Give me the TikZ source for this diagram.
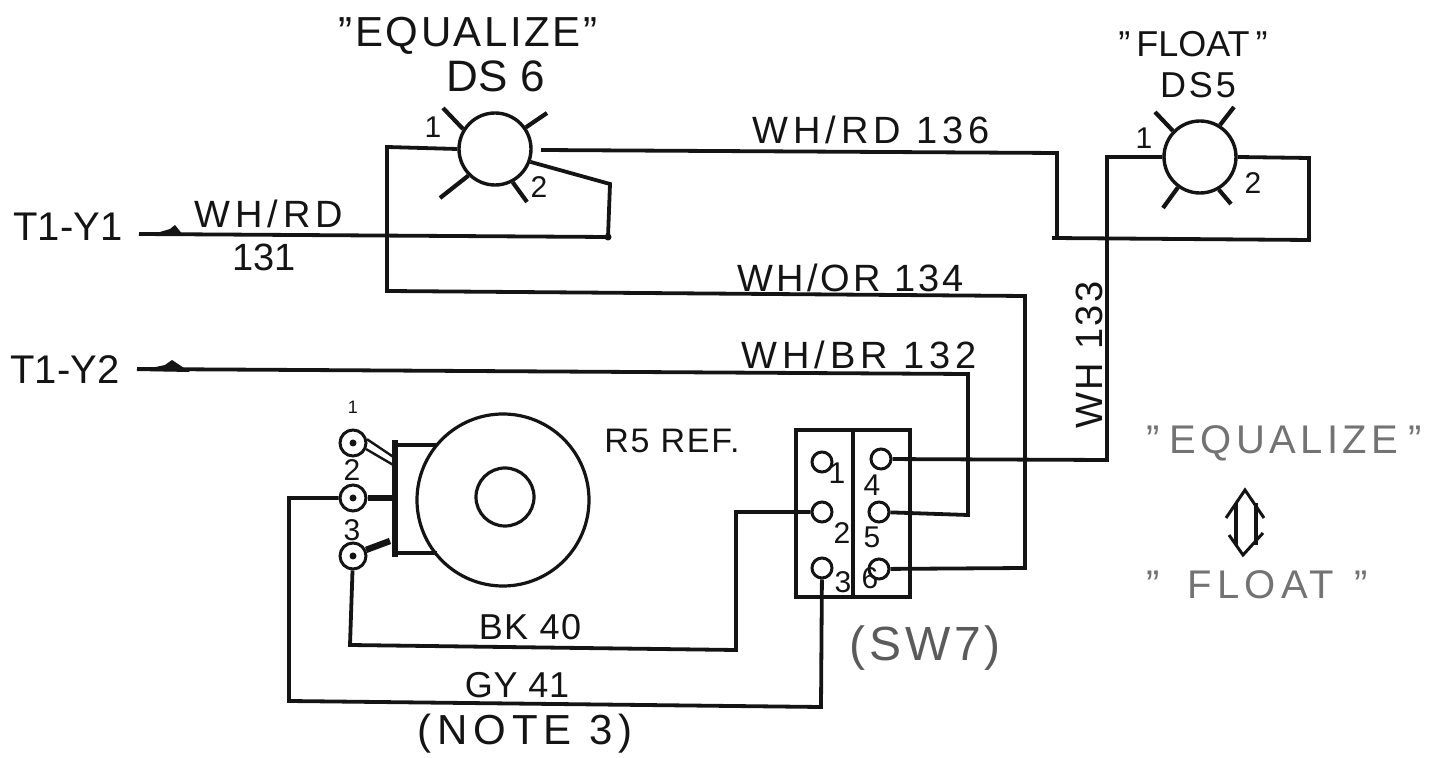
\documentclass[tikz,border=0pt]{standalone}
\usepackage{fontspec}
\setmainfont{Liberation Sans}
\definecolor{ink}{gray}{0.08}
\definecolor{pale}{gray}{0.45}
\newcommand{\qq}{\symbol{34}}
\newcommand{\spc}[1]{\addfontfeature{LetterSpace=#1}}
\tikzset{
  wire/.style={line width=1.9pt, color=ink, line join=miter},
  ray/.style={line width=2.1pt, color=ink},
  lamp/.style={circle, draw=ink, line width=1.7pt, minimum size=36pt, inner sep=0pt},
  pin/.style={circle, draw=ink, line width=1.5pt, minimum size=10pt, inner sep=0pt},
  lug/.style={circle, draw=ink, line width=1.5pt, minimum size=13pt, inner sep=0pt},
  dot/.style={circle, fill=ink, minimum size=3.5pt, inner sep=0pt},
  lab/.style={text=ink, font=\fontsize{19}{19}\selectfont\spc{13}, inner sep=0pt},
  big/.style={text=ink, font=\fontsize{20}{20}\selectfont, inner sep=0pt},
  tiny/.style={text=ink, font=\fontsize{15}{15}\selectfont, inner sep=0pt},
  grey/.style={text=pale, font=\fontsize{20}{20}\selectfont\spc{11}, inner sep=0pt}
}
\begin{document}
\begin{tikzpicture}[x=0.5pt, y=0.5pt]
    \useasboundingbox (0, 0) rectangle (1430, -758);
    % lamps, terminals, switch
    \draw (495, -149) node (ds6) [lamp] {}
          (1200, -157) node (ds5) [lamp] {};
    \foreach \a/\x/\y in {35/547/113, 148/443/108, 225/440/198, 298/527/202}
      \draw[ray] (ds6.\a) -- (\x, -\y);
    \foreach \a/\x/\y in {58/1234/107, 136/1155/112, 234/1163/208, 300/1231/204}
      \draw[ray] (ds5.\a) -- (\x, -\y);
    \draw (353, -443) node (lug1) [lug] {}
          (353, -498) node (lug2) [lug] {}
          (353, -556) node (lug3) [lug] {}
          (503, -500) node (pot) [circle, draw=ink, line width=1.6pt, minimum size=86pt, inner sep=0pt] {}
          (505, -497) node (shaft) [circle, draw=ink, line width=1.6pt, minimum size=29pt, inner sep=0pt] {};
    \draw (395, -440) coordinate (br1)
          (395, -557) coordinate (br2)
          (395, -445) coordinate (br1a)
          (395, -553) coordinate (br2a)
          (395, -498) coordinate (br3)
          (437, -445) coordinate (arm1)
          (437, -553) coordinate (arm2);
    \draw[wire, line width=2.6pt] (br1) -- (br2);
    \draw[wire] (br1a) -- (arm1)
                (br2a) -- (arm2);
    \draw[wire, line width=1.2pt] (lug1.15) -- (395, -458)
                                  (lug1.-25) -- (395, -466);
    \draw[wire, line width=2.6pt] (lug2) -- (br3);
    \draw[wire, line width=3.2pt] (lug3.25) -- (390, -541);
    \draw (lug1) node [dot] {}
          (lug2) node [dot] {}
          (lug3) node [dot] {};
    \draw (853, -513.5) node (sw) [draw=ink, line width=1.9pt, minimum width=57pt, minimum height=83.5pt, inner sep=0pt] {};
    \draw[wire] (sw.north) -- (sw.south);
    \draw (822, -462) node (p1) [pin] {}
          (822, -512) node (p2) [pin] {}
          (822, -568) node (p3) [pin] {}
          (881, -459) node (p4) [pin] {}
          (879, -512) node (p5) [pin] {}
          (879, -569) node (p6) [pin] {};
    % end labels and wire corners
    \draw (68, -227) node (y1) [big] {T1-Y1}
          (65, -370) node (y2) [big] {T1-Y2}
          (608, -237) coordinate (jn1)
          (1057, -238) coordinate (jn2)
          (1052, -238) coordinate (jn2a)
          (139, -234) coordinate (y1a)
          (137, -369) coordinate (y2a)
          (541, -150) coordinate (ds6a);
    % wires
    \draw[wire] (y1a) -- (jn1) -- (610, -184) -- (ds6.-20);
    \draw[wire] (ds6.180) -- (387, -147) -- (387, -291) -- (1025, -296) -- (1025, -568) -- (p6);
    \draw[wire] (ds6a) -- (1057, -153) -- (jn2);
    \draw[wire] (jn2a) -- (1309, -240) -- (1309, -158) -- (ds5.east);
    \draw[wire] (ds5.west) -- (1107, -157) -- (1107, -460) -- (p4);
    \draw[wire] (y2a) -- (968, -374) -- (968, -515) -- (p5);
    \draw[wire] (p2) -- (736, -512) -- (736, -650) -- (350, -645) -- (lug3);
    \draw[wire] (p3) -- (821, -707) -- (289, -701) -- (289, -498) -- (lug2);
    \draw (jn1) node [dot] {};
    \fill[ink] (150, -235) -- (170, -229) -- (175, -225) -- (183, -235) -- cycle;
    \fill[ink] (137, -371) -- (165, -365) -- (172, -360) -- (190, -372) -- cycle;
    % texts
    \draw (468, -36) node (eq1) [big, font=\fontsize{21}{21}\selectfont\spc{6}] {\qq EQUALIZE\qq}
          (496, -76) node (dsa) [big, font=\fontsize{22}{22}\selectfont\spc{1}] {DS 6}
          (1193, -44) node (fl1) [big, font=\fontsize{18}{18}\selectfont] {\qq\hspace{3pt}FLOAT\hspace{3pt}\qq}
          (1198, -85) node (dsb) [big, font=\fontsize{18}{18}\selectfont\spc{8}] {DS5}
          (433, -127) node (n1a) [tiny] {1}
          (539, -187) node (n2a) [tiny] {2}
          (1144, -138) node (n1b) [tiny] {1}
          (1253, -183) node (n2b) [tiny] {2}
          (871, -130) node (w136) [lab] {WH/RD 136}
          (269, -214) node (w131a) [lab] {WH/RD}
          (264, -257) node (w131b) [lab, font=\fontsize{19}{19}\selectfont] {131}
          (851, -278) node (w134) [lab, font=\fontsize{19}{19}\selectfont\spc{8}] {WH/OR 134}
          (859, -355) node (w132) [lab] {WH/BR 132}
          (1089, -355) node (w133) [lab, font=\fontsize{19}{19}\selectfont\spc{6}, rotate=90] {WH 133}
          (530, -627) node (w40) [lab, font=\fontsize{18}{18}\selectfont\spc{4}] {BK 40}
          (517, -685) node (w41) [lab, font=\fontsize{18}{18}\selectfont\spc{2}] {GY 41}
          (525, -734) node (nt3) [big, font=\fontsize{21}{21}\selectfont\spc{14}] {(NOTE 3)}
          (672, -441) node (r5) [lab, font=\fontsize{17}{17}\selectfont\spc{5}] {R5 REF.}
          (925, -648) node (sw7) [grey, text=ink!70, font=\fontsize{24}{24}\selectfont\spc{8}] {(SW7)}
          (1284, -443) node (eq2) [grey] {\qq\hspace{5pt}EQUALIZE\hspace{5pt}\qq}
          (1257, -585) node (fl2) [grey, font=\fontsize{20}{20}\selectfont\spc{13}] {\qq\hspace{14pt}FLOAT\hspace{10pt}\qq}
          (353, -407) node (l1) [tiny, font=\fontsize{9}{9}\selectfont] {1}
          (352, -470) node (l2) [tiny] {2}
          (352, -530) node (l3) [tiny] {3}
          (837, -473) node (t1) [tiny] {1}
          (842, -533) node (t2) [tiny] {2}
          (843, -582) node (t3) [tiny] {3}
          (872, -485) node (t4) [tiny] {4}
          (872, -537) node (t5) [tiny] {5}
          (870, -578) node (t6) [tiny] {6};
    % double arrow
    \draw (1245, -490) coordinate (up)
          (1243, -555) coordinate (dn);
    \draw[wire, line width=1.5pt] (1226, -518) -- (up) -- (1264, -518)
                                  (1229, -535) -- (dn) -- (1263, -533);
    \draw[wire, line width=1.8pt] (1236, -503) -- (1236, -545)
                                  (1256, -503) -- (1256, -545);
  \end{tikzpicture}
\end{document}
